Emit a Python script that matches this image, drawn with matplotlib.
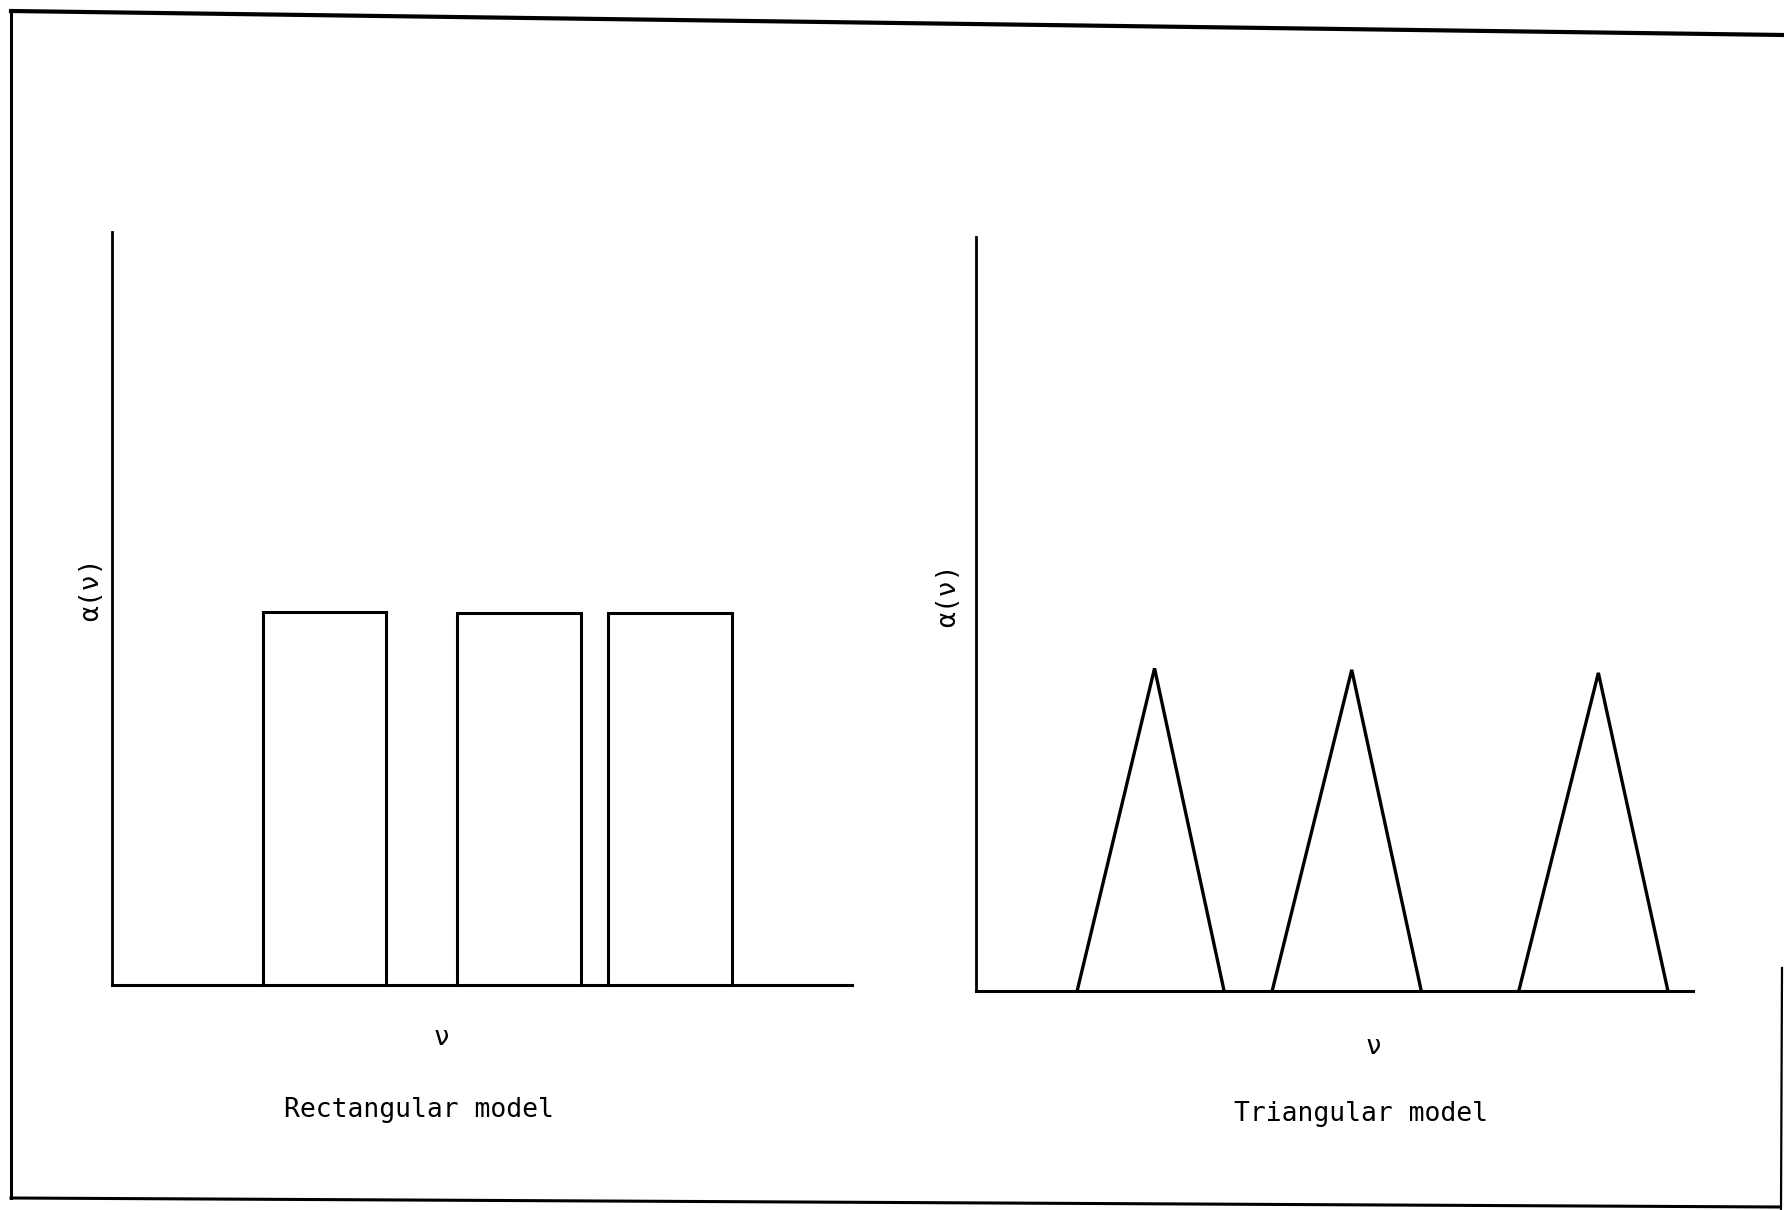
import matplotlib
matplotlib.use("Agg")
import matplotlib.pyplot as plt
from matplotlib.lines import Line2D

plt.rcParams['font.family'] = ['DejaVu Sans Mono', 'DejaVu Sans']

# Rectangular model: band edges and height (axis units 0-100)
rect_left = [20.4, 46.6, 67.0]
rect_right = [37.0, 63.4, 83.8]
rect_height = [49.6, 49.4, 49.4]

# Triangular model: start, peak, end and peak height
tri_start = [14.1, 41.3, 75.7]
tri_peak = [24.9, 52.4, 86.8]
tri_end = [34.6, 62.1, 96.5]
tri_height = [42.8, 42.6, 42.2]

titles = ["Rectangular model", "Triangular model"]
ylabel = "α(ν)"
xlabel = "ν"

fig = plt.figure(figsize=(17.84, 12.10), dpi=100)
fig.patch.set_facecolor("white")

ax1 = fig.add_axes([0.0628, 0.186, 0.4148, 0.622])
ax2 = fig.add_axes([0.5471, 0.181, 0.4019, 0.623])

for ax in (ax1, ax2):
    ax.set_xlim(0, 100)
    ax.set_ylim(0, 100)
    ax.set_xticks([])
    ax.set_yticks([])
    ax.spines["top"].set_visible(False)
    ax.spines["right"].set_visible(False)
    ax.spines["left"].set_linewidth(2.0)
    ax.spines["bottom"].set_linewidth(2.2)
    ax.patch.set_alpha(0)

for l, r, h in zip(rect_left, rect_right, rect_height):
    ax1.plot([l, l, r, r], [0, h, h, 0], color="black", lw=2.2,
             solid_joinstyle="miter", clip_on=False)

for a, p, b, h in zip(tri_start, tri_peak, tri_end, tri_height):
    ax2.plot([a, p, b], [0, h, 0], color="black", lw=2.4,
             solid_joinstyle="miter", clip_on=False)

# labels
fig.text(0.051, 0.513, ylabel, rotation=90, ha="center", va="center", fontsize=19)
fig.text(0.5314, 0.508, ylabel, rotation=90, ha="center", va="center", fontsize=19)
fig.text(0.2477, 0.142, xlabel, ha="center", va="center", fontsize=19)
fig.text(0.7696, 0.135, xlabel, ha="center", va="center", fontsize=19)
fig.text(0.2349, 0.0826, titles[0], ha="center", va="center", fontsize=19)
fig.text(0.7629, 0.079, titles[1], ha="center", va="center", fontsize=19)

# scanned page frame (pixel positions -> figure fraction)
W, H = 1784.0, 1210.0
def frame(xs, ys, lw):
    fig.add_artist(Line2D([x / W for x in xs], [1 - y / H for y in ys],
                          transform=fig.transFigure, color="black", lw=lw))

frame([11, 1784], [11, 35], 3.0)
frame([11, 11], [11, 1198], 2.2)
frame([11, 1780], [1198, 1207], 2.2)
frame([1782, 1781], [968, 1210], 1.6)

fig.savefig("out.png", dpi=100, facecolor="white")
